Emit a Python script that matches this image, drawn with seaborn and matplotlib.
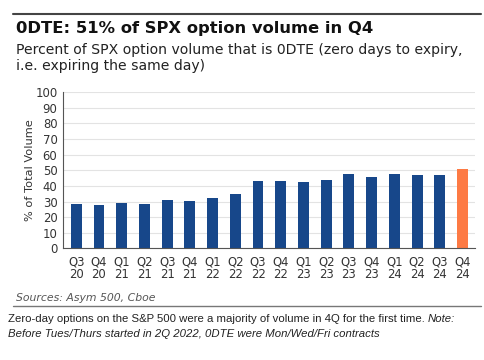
import matplotlib
matplotlib.use("Agg")
import matplotlib.pyplot as plt
import seaborn as sns
import pandas as pd
from matplotlib.lines import Line2D

quarters = ["Q3\n20", "Q4\n20", "Q1\n21", "Q2\n21", "Q3\n21", "Q4\n21", "Q1\n22", "Q2\n22",
            "Q3\n22", "Q4\n22", "Q1\n23", "Q2\n23", "Q3\n23", "Q4\n23", "Q1\n24", "Q2\n24",
            "Q3\n24", "Q4\n24"]
pct_0dte = [28.2, 27.8, 29.3, 28.4, 30.8, 30.6, 32.3, 35.0,
            42.9, 43.4, 42.3, 43.8, 47.6, 45.5, 47.6, 47.2,
            47.2, 51.1]
highlight = ["base"] * 17 + ["latest"]

df = pd.DataFrame({"quarter": quarters, "pct": pct_0dte, "grp": highlight})

sns.set_style("white")
plt.rcParams["font.family"] = ["DejaVu Sans"]

fig = plt.figure(figsize=(4.85, 3.6), dpi=100)
ax = fig.add_axes([0.130, 0.310, 0.850, 0.434])

sns.barplot(data=df, x="quarter", y="pct", hue="grp", dodge=False, legend=False,
            palette={"base": "#17478a", "latest": "#fd7a44"}, width=0.48,
            saturation=1, linewidth=0, ax=ax)

ax.set_ylim(0, 100)
ax.set_xlim(-0.58, 17.56)
ax.set_yticks(range(0, 101, 10))
ax.yaxis.grid(True, color="#e3e3e3", linewidth=0.8)
ax.set_axisbelow(True)
for s in ["top", "right"]:
    ax.spines[s].set_visible(False)
for s in ["left", "bottom"]:
    ax.spines[s].set_color("#555555")
    ax.spines[s].set_linewidth(0.8)
ax.tick_params(axis="y", length=3, color="#555555", labelsize=8.4, labelcolor="#333333", pad=1)
ax.tick_params(axis="x", length=3, color="#555555", labelsize=8.4, labelcolor="#333333", pad=2)
ax.set_xlabel("")
ax.set_ylabel("% of Total Volume", fontsize=8.2, color="#333333", labelpad=0)
for lbl in ax.get_xticklabels():
    lbl.set_linespacing(0.95)

# header / footer
fig.add_artist(Line2D([13 / 485, 481 / 485], [1 - 14 / 360, 1 - 14 / 360],
                      color="#444444", linewidth=1.5))
fig.text(16 / 485, 1 - 28 / 360, "0DTE: 51% of SPX option volume in Q4",
         fontsize=11.8, fontweight="bold", color="#111111", va="center")
fig.text(16 / 485, 1 - 58 / 360,
         "Percent of SPX option volume that is 0DTE (zero days to expiry,\ni.e. expiring the same day)",
         fontsize=10.1, color="#222222", va="center", linespacing=1.15)
fig.text(16 / 485, 1 - 298 / 360, "Sources: Asym 500, Cboe", fontsize=7.8,
         style="italic", color="#555555", va="center")
fig.add_artist(Line2D([13 / 485, 481 / 485], [1 - 306 / 360, 1 - 306 / 360],
                      color="#777777", linewidth=1.0))
cap1 = fig.text(8 / 485, 1 - 319 / 360,
                "Zero-day options on the S&P 500 were a majority of volume in 4Q for the first time. ",
                fontsize=8.2, family="Liberation Sans", color="#222222", va="center")
fig.canvas.draw()
bb = cap1.get_window_extent()
fig.text(bb.x1 / fig.bbox.width, 1 - 319 / 360, "Note:",
         fontsize=8.2, family="Liberation Sans", style="italic", color="#222222", va="center")
fig.text(8 / 485, 1 - 334 / 360,
         "Before Tues/Thurs started in 2Q 2022, 0DTE were Mon/Wed/Fri contracts",
         fontsize=8.2, family="Liberation Sans", style="italic", color="#222222", va="center")

fig.savefig("out.png", dpi=100, facecolor="white")
